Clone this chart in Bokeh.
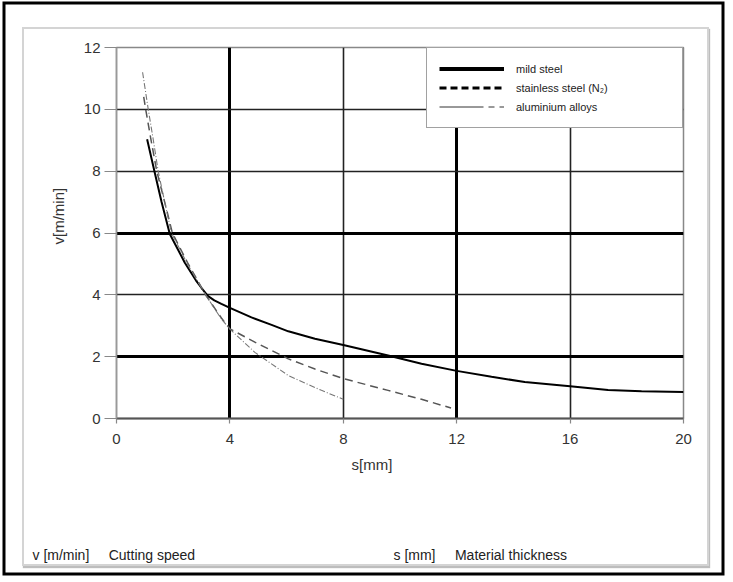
from bokeh.plotting import figure
from bokeh.models import (FixedTicker, Grid, Legend, LegendItem, Title, Range1d,
                          LinearAxis)
from bokeh.embed import file_html
from bokeh.resources import INLINE

# ---- data ----
x_ticks = [0, 4, 8, 12, 16, 20]
y_ticks = [0, 2, 4, 6, 8, 10, 12]

mild_s = [1.08, 1.35, 1.59, 1.88, 2.41, 2.8, 3.0, 3.23, 3.45, 3.7, 4.0, 4.76, 5.47, 6.06,
          7.0, 8.0, 9.58, 10.76, 12.0, 13.23, 14.4, 16.0, 17.34, 18.52, 20.0]
mild_v = [9.03, 7.95, 7.0, 5.97, 5.04, 4.47, 4.22, 3.96, 3.82, 3.71, 3.58, 3.27, 3.03, 2.82,
          2.58, 2.38, 2.04, 1.77, 1.54, 1.35, 1.18, 1.04, 0.92, 0.88, 0.86]

stainless_s = [0.96, 1.03, 1.2, 1.42, 1.7, 1.97, 2.5, 3.17, 3.7, 4.0, 4.88, 6.06, 7.0, 8.0,
               9.58, 10.76, 11.8]
stainless_v = [10.4, 10.0, 9.1, 8.0, 7.0, 6.0, 5.05, 3.96, 3.25, 2.9, 2.47, 1.93, 1.6, 1.29,
               0.91, 0.62, 0.34]

alu_s = [0.92, 1.12, 1.3, 1.47, 1.7, 1.94, 2.5, 3.17, 3.7, 4.0, 4.88, 6.06, 7.23, 8.0]
alu_v = [11.2, 10.0, 9.0, 8.0, 7.0, 6.0, 5.0, 3.96, 3.22, 2.89, 2.14, 1.39, 0.91, 0.62]

series_names = ["mild steel", "stainless steel (N\u2082)", "aluminium alloys"]
x_title = "s[mm]"
y_title = "v[m/min]"
NB = "\u00a0"
footnote = ("v [m/min]" + NB * 5 + "Cutting" + NB + "speed" + NB * 51 +
            "s [mm]" + NB * 5 + "Material" + NB + "thickness")
FONT = "Liberation Sans"

p = figure(width=687, height=539, x_range=Range1d(0, 20), y_range=Range1d(0, 12),
           output_backend="svg", toolbar_location=None,
           min_border_left=92, min_border_right=28, min_border_top=18,
           min_border_bottom=150)
p.styles = {
    "margin-left": "22px",
    "margin-top": "27px",
    "border": "2px solid #d4d4d4",
    "box-shadow": ("1px 2px 1px #bdbdbd, -2px -8px 0 14.5px white, "
                   "-2px -8px 0 17.5px black"),
}
p.background_fill_color = "white"
p.border_fill_color = "white"
p.outline_line_color = "#888888"
p.outline_line_width = 1.5
p.xgrid.visible = False
p.ygrid.visible = False

# custom grids
for dim, ticks, color, w in [
    (0, [4, 12], "black", 3),
    (0, [8, 16, 20], "#222222", 1.6),
    (1, [2, 6], "black", 3),
    (1, [4, 8, 10], "#222222", 1.6),
]:
    p.add_layout(Grid(dimension=dim, ticker=FixedTicker(ticks=ticks),
                      grid_line_color=color, grid_line_width=w))

# axes
p.xaxis.ticker = FixedTicker(ticks=x_ticks)
p.yaxis.ticker = FixedTicker(ticks=y_ticks)
for ax in (p.xaxis[0], p.yaxis[0]):
    ax.major_label_text_font = FONT
    ax.major_label_text_font_size = "15px"
    ax.major_label_text_color = "#333333"
    ax.minor_tick_line_color = None
    ax.major_tick_line_color = "#888888"
    ax.major_tick_line_width = 1.2
    ax.major_tick_in = 0
p.xaxis.axis_line_color = "#555555"
p.xaxis.axis_line_width = 2
p.xaxis.major_tick_out = 5
p.xaxis.major_label_standoff = 10
p.yaxis.axis_line_color = "#999999"
p.yaxis.axis_line_width = 1.5
p.yaxis.major_tick_out = 12
p.yaxis.major_label_standoff = 4

# curves
p.line(mild_s, mild_v, line_color="black", line_width=2)
p.line(stainless_s, stainless_v, line_color="#555555", line_width=1.5, line_dash="8 5")
p.line(alu_s, alu_v, line_color="#777777", line_width=1.1, line_dash="6 2 1 2")

# legend-only renderers (a single point, so nothing is drawn in the plot)
l_mild = p.line(mild_s[:1], mild_v[:1], line_color="black", line_width=4)
l_st = p.line(stainless_s[:1], stainless_v[:1], line_color="black", line_width=3, line_dash="7 4")
l_al = p.line(alu_s[:1], alu_v[:1], line_color="#333333", line_width=1, line_dash="44 5 6 5")

legend = Legend(items=[LegendItem(label=series_names[0], renderers=[l_mild]),
                       LegendItem(label=series_names[1], renderers=[l_st]),
                       LegendItem(label=series_names[2], renderers=[l_al])],
                location="top_right", margin=0, padding=12, spacing=2,
                glyph_width=65, glyph_height=17, label_height=17, label_width=154,
                label_standoff=12,
                label_text_font=FONT, label_text_font_size="11px",
                label_text_color="#222222",
                border_line_color="#444444", border_line_width=1.2,
                background_fill_color="white", background_fill_alpha=1.0)
p.add_layout(legend)

# axis titles and footnote in the side panels
p.add_layout(Title(text=y_title, align="left", offset=174, standoff=28,
                   text_font=FONT, text_font_size="15px", text_font_style="normal",
                   text_color="#333333"), "left")
p.add_layout(Title(text=x_title, align="left", offset=235, standoff=15,
                   text_font=FONT, text_font_size="15px", text_font_style="normal",
                   text_color="#333333"), "below")
# spacer axis: one white (invisible) tick, empty label, pushes the footnote down
spacer = LinearAxis(ticker=FixedTicker(ticks=[10]), axis_line_color=None,
                    major_tick_line_color="white", minor_tick_line_color=None,
                    major_tick_out=62, major_tick_in=0, major_label_standoff=0,
                    major_label_overrides={10: ""},
                    major_label_text_font_size="1px")
p.add_layout(spacer, "below")
p.add_layout(Title(text=footnote, align="left", offset=-84, standoff=4,
                   text_font=FONT, text_font_size="14px", text_font_style="normal",
                   text_color="#222222"), "below")

open("out.html", "w").write(file_html(p, INLINE))
